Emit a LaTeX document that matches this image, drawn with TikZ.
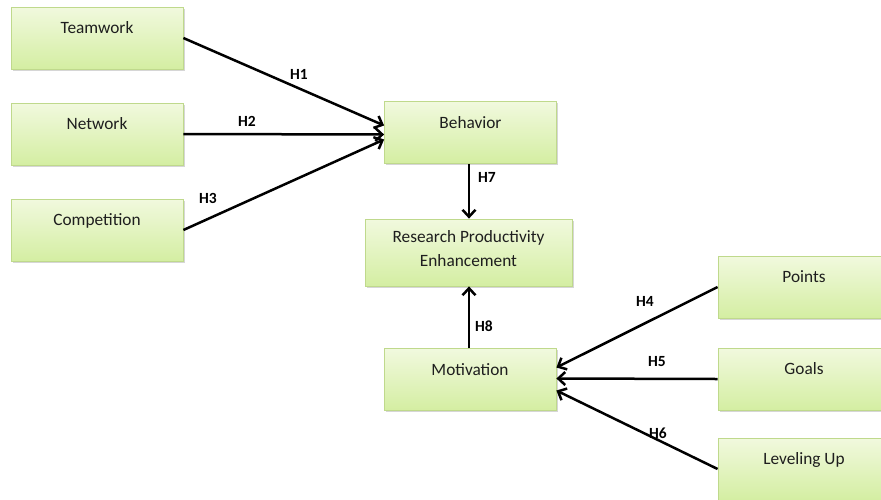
\documentclass[tikz,border=0pt]{standalone}
\usepackage{fontspec}
\setmainfont{Carlito}
\usetikzlibrary{arrows.meta,shadows}
\definecolor{boxtop}{HTML}{F1F9DE}
\definecolor{boxbot}{HTML}{D4EEA2}
\definecolor{boxline}{HTML}{BFD98C}
\definecolor{txt}{HTML}{1E1E1E}
\tikzset{
  box/.style={rectangle, draw=boxline, line width=0.8pt, top color=boxtop, bottom color=boxbot,
    minimum width=172pt, minimum height=62pt, inner sep=0pt,
    drop shadow={shadow xshift=1.5pt, shadow yshift=-1.5pt, fill=black!35, opacity=0.45}},
  boxtext/.style={anchor=north, yshift=-15pt, text=txt, font=\fontsize{17.3}{21}\selectfont, align=center, inner sep=0pt},
  conn/.style={line width=2.5pt, -{Straight Barb[length=7pt,width=13pt,line width=2.5pt]}},
  hlab/.style={font=\fontsize{15.5}{17}\selectfont\bfseries, text=black, inner sep=0pt}
}
\begin{document}
\begin{tikzpicture}[x=1pt,y=-1pt]
\useasboundingbox (0,0) rectangle (881,499);
\clip (0,0) rectangle (881,499);
\fill[white] (0,0) rectangle (881,499);
% left boxes
\node[box, label={[boxtext]north:Teamwork}] (tw) at (97,38) {};
\node[box, label={[boxtext]north:Network}] (nw) at (97,134) {};
\node[box, label={[boxtext]north:Competition}] (cp) at (97,230) {};
% center boxes
\node[box, label={[boxtext]north:Behavior}] (bh) at (470.5,132.5) {};
\node[box, minimum width=207pt, minimum height=67pt, label={[boxtext, yshift=3pt]north:Research Productivity\\[3pt]Enhancement}] (rp) at (468.5,252.5) {};
\node[box, label={[boxtext]north:Motivation}] (mo) at (470,379.5) {};
% right boxes
\node[box, label={[boxtext]north:Points}] (pt) at (804,287) {};
\node[box, label={[boxtext]north:Goals}] (gl) at (804,379) {};
\node[box, label={[boxtext]north:Leveling Up}] (lv) at (804,469) {};
% connectors
\draw[conn] (tw.east) -- ([yshift=7pt]bh.west);
\draw[conn] (nw.east) -- ([yshift=-2pt]bh.west);
\draw[conn] (cp.east) -- ([yshift=-7pt]bh.west);
\draw[conn] ([xshift=-1.5pt]bh.south) -- ([xshift=-1.5pt]bh.south |- rp.north);
\draw[conn] ([xshift=-1pt]mo.north) -- ([xshift=-1pt]mo.north |- rp.south);
\draw[conn] (pt.west) -- ([yshift=12pt]mo.east);
\draw[conn] (gl.west) -- ([yshift=1pt]mo.east);
\draw[conn] (lv.west) -- ([yshift=-11pt]mo.east);
% labels
\node[hlab] (h1) at (299,74) {H1};
\node[hlab] (h2) at (247,121) {H2};
\node[hlab] (h3) at (208,198) {H3};
\node[hlab] (h7) at (487,177) {H7};
\node[hlab] (h8) at (484,326) {H8};
\node[hlab] (h4) at (645,301) {H4};
\node[hlab] (h5) at (657,362) {H5};
\node[hlab] (h6) at (658,433) {H6};
\end{tikzpicture}
\end{document}
